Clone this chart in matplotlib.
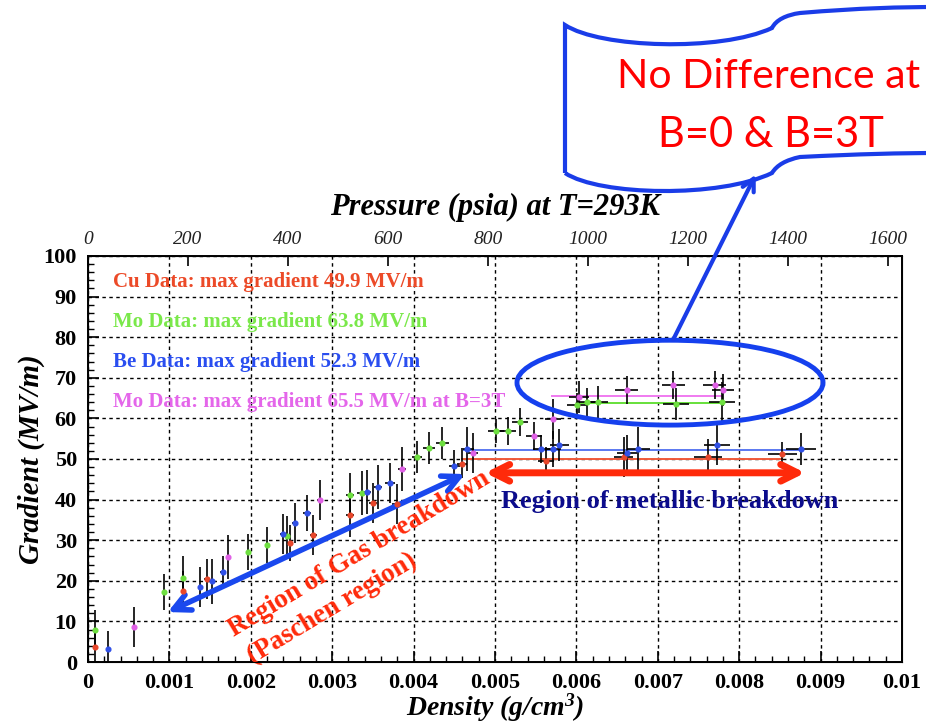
import matplotlib
matplotlib.use("Agg")
import matplotlib.pyplot as plt
import matplotlib.patches as mpatches
from matplotlib.path import Path
from matplotlib.ticker import MultipleLocator

plt.rcParams["font.family"] = ["Liberation Serif", "DejaVu Serif"]
plt.rcParams["mathtext.fontset"] = "custom"
plt.rcParams["mathtext.rm"] = "Liberation Serif:italic:bold"
plt.rcParams["mathtext.it"] = "Liberation Serif:italic:bold"

# ---- data ----
cu_x = [0.000086, 0.00117, 0.00146, 0.00248, 0.00277, 0.00322, 0.0035, 0.00379,
        0.00459, 0.00563, 0.00658, 0.00762, 0.00853]
cu_y = [3.7, 17.5, 20.4, 29.3, 31.3, 36.2, 39.2, 38.9, 48.8, 49.5, 50.5, 50.5, 51.2]
cu_xerr = [0.00002, 0.00003, 0.00003, 0.00004, 0.00004, 0.00005, 0.00005, 0.00005,
           0.00006, 0.0001, 0.00012, 0.00017, 0.00018]
cu_yerr = [4.5, 5.0, 5.0, 4.5, 5.0, 5.5, 5.0, 5.0, 3.5, 3.5, 5.0, 4.5, 3.0]

mo_x = [0.000086, 0.00093, 0.00117, 0.00197, 0.0022, 0.00244, 0.00322, 0.00336,
        0.00404, 0.00419, 0.00435, 0.00501, 0.00516, 0.00531, 0.00601, 0.00613,
        0.00627, 0.00722, 0.00779]
mo_y = [7.9, 17.2, 20.7, 27.1, 28.8, 31.0, 41.1, 41.6, 50.5, 52.7, 53.9, 56.9, 56.9,
        59.1, 63.3, 64.0, 64.0, 63.5, 64.0]
mo_xerr = [0.00002, 0.00002, 0.00003, 0.00003, 0.00003, 0.00004, 0.00005, 0.00005,
           0.00006, 0.00007, 0.00008, 0.0001, 0.0001, 0.0001, 0.00012, 0.00012,
           0.00012, 0.00016, 0.00016]
mo_yerr = [5.0, 4.5, 5.5, 4.5, 4.5, 5.0, 5.5, 5.5, 4.0, 4.0, 4.0, 3.0, 3.5, 3.5, 3.0,
           3.5, 4.0, 4.0, 5.0]

be_x = [0.00025, 0.00138, 0.00152, 0.00166, 0.0024, 0.00254, 0.00269, 0.00343,
        0.00356, 0.00371, 0.0045, 0.00466, 0.00557, 0.00571, 0.00579, 0.00662,
        0.00676, 0.00773, 0.00876]
be_y = [3.2, 18.5, 19.9, 22.2, 31.5, 34.2, 36.7, 41.9, 43.1, 44.1, 48.3, 52.5, 52.5,
        52.5, 53.4, 51.5, 52.5, 53.4, 52.5]
be_xerr = [0.00002, 0.00003, 0.00003, 0.00004, 0.00004, 0.00004, 0.00005, 0.00005,
           0.00005, 0.00006, 0.00007, 0.00008, 0.0001, 0.0001, 0.00012, 0.00012,
           0.00014, 0.00016, 0.00018]
be_yerr = [4.5, 5.0, 5.5, 4.0, 5.0, 5.0, 4.5, 5.5, 5.5, 5.0, 4.0, 5.5, 3.5, 4.5, 4.0,
           4.5, 5.5, 5.0, 4.0]

b3_x = [0.00057, 0.00172, 0.00285, 0.00386, 0.00473, 0.00548, 0.00571, 0.00603,
        0.00662, 0.00719, 0.0077, 0.0078]
b3_y = [8.6, 25.9, 39.9, 47.5, 51.5, 55.7, 59.9, 65.3, 67.0, 68.2, 68.2, 67.0]
b3_xerr = [0.00002, 0.00003, 0.00004, 0.00005, 0.00006, 0.0001, 0.0001, 0.00012,
           0.00014, 0.00014, 0.00014, 0.00014]
b3_yerr = [5.0, 5.5, 5.0, 5.5, 5.0, 3.5, 5.0, 4.0, 3.5, 3.5, 3.5, 4.0]

# max gradient lines: colour, value, start density, end density
max_lines = [
    ("#f05a3a", 49.9, 0.00459, 0.00853),
    ("#5a78f0", 52.3, 0.00462, 0.00876),
    ("#66e03a", 63.8, 0.00601, 0.00779),
    ("#f07af0", 65.5, 0.0057, 0.00779),
]

legend_texts = [
    ("Cu Data: max gradient 49.9 MV/m", "#ec4a28"),
    ("Mo Data: max gradient 63.8 MV/m", "#7ae84a"),
    ("Be Data: max gradient 52.3 MV/m", "#2a4ef0"),
    ("Mo Data: max gradient 65.5 MV/m at B=3T", "#e466ea"),
]
legend_y = [93.6, 83.7, 73.9, 64.0]

PSIA_AT_XMAX = 1628.0

W, H = 926, 725
fig = plt.figure(figsize=(W / 100, H / 100), dpi=100)
ax = fig.add_axes([88 / W, 63 / H, 814 / W, 406 / H])

series = [
    (cu_x, cu_y, cu_xerr, cu_yerr, "#e8462a"),
    (mo_x, mo_y, mo_xerr, mo_yerr, "#6ee040"),
    (be_x, be_y, be_xerr, be_yerr, "#3050e8"),
    (b3_x, b3_y, b3_xerr, b3_yerr, "#e060e6"),
]

for col, val, x0, x1 in max_lines:
    ax.plot([x0, x1], [val, val], color=col, lw=1.4, zorder=2)

for xs, ys, xe, ye, col in series:
    ax.errorbar(xs, ys, xerr=xe, yerr=ye, fmt="o", ms=3.4, mfc=col, mec=col,
                ecolor="black", elinewidth=1.2, capsize=0, zorder=3)

ax.set_xlim(0, 0.01)
ax.set_ylim(0, 100)
xt = [i * 0.001 for i in range(11)]
ax.set_xticks(xt)
ax.set_xticklabels(["0"] + ["%g" % v for v in xt[1:]])
ax.xaxis.set_minor_locator(MultipleLocator(0.0002))
ax.yaxis.set_major_locator(MultipleLocator(10))
ax.yaxis.set_minor_locator(MultipleLocator(2))
ax.tick_params(which="both", direction="in", top=False, right=False)
ax.tick_params(which="major", length=8, width=1.2, labelsize=16, pad=8)
ax.tick_params(which="minor", length=4.5, width=1)
for lab in ax.get_xticklabels() + ax.get_yticklabels():
    lab.set_fontweight("bold")
ax.grid(True, which="major", color="black", ls=(0, (2.5, 2.5)), lw=1)
for s in ax.spines.values():
    s.set_linewidth(1.4)

ax.set_xlabel("Density (g/cm$^3$)", fontsize=20, fontweight="bold", style="italic",
              va="center")
ax.xaxis.set_label_coords(0.5, -0.112)
ax.set_ylabel("Gradient (MV/m)", fontsize=21, fontweight="bold", style="italic",
              va="center")
ax.yaxis.set_label_coords(-0.069, 0.5)

# top pressure axis
ax2 = ax.twiny()
ax2.set_xlim(0, PSIA_AT_XMAX)
ax2.xaxis.set_major_locator(MultipleLocator(200))
ax2.tick_params(axis="x", direction="in", length=7, width=1.2, labelsize=14, pad=6,
                labelcolor="#222222")
for lab in ax2.get_xticklabels():
    lab.set_fontstyle("italic")
ax2.set_xlabel("Pressure (psia) at T=293K", fontsize=22, fontweight="bold",
               style="italic", va="center")
ax2.xaxis.set_label_coords(0.5, 1.12)

# legend-like texts
for (txt, col), yv in zip(legend_texts, legend_y):
    ax.text(0.000307, yv, txt, color=col, fontsize=15, fontweight="bold", va="center",
            ha="left", zorder=4)

# ellipse around the B=0 / B=3T data
ax.add_patch(mpatches.Ellipse((0.00715, 68.8), 0.00376, 20.9, fill=False,
                              ec="#1540ee", lw=3.5, zorder=5))

# gas breakdown arrow
ax.annotate("", xy=(0.00098, 12.3), xytext=(0.00463, 46.3),
            arrowprops=dict(arrowstyle="<->", color="#1a48ee", lw=4, mutation_scale=30,
                            shrinkA=0, shrinkB=0))
# metallic breakdown arrow
ax.annotate("", xy=(0.00488, 46.6), xytext=(0.00881, 46.6),
            arrowprops=dict(arrowstyle="<->", color="#ff2a0a", lw=5, mutation_scale=30,
                            shrinkA=0, shrinkB=0))

ax.text(0.00715, 39.5, "Region of metallic breakdown", color="#0c0c8c", fontsize=19,
        fontweight="bold", ha="center", va="center", zorder=6)
ax.text(0.00333, 26.6, "Region of Gas breakdown", color="#ff2a0a", fontsize=19.5,
        fontweight="bold", ha="center", va="center", rotation=31, zorder=6)
ax.text(0.0030, 13.2, "(Paschen region)", color="#ff2a0a", fontsize=19.5,
        fontweight="bold", ha="center", va="center", rotation=31, zorder=6)


# callout scroll shape (figure pixel coords)
def P(x, y):
    return (x / W, 1 - y / H)


verts = [
    P(565, 173), P(565, 25),
    P(600, 48), P(720, 52), P(772, 28),
    P(776, 20), P(786, 15), P(800, 13),
    P(860, 8), P(900, 7), P(940, 7),
    P(940, 153),
    P(900, 153), P(860, 154), P(800, 157),
    P(786, 160), P(777, 165), P(772, 173),
    P(720, 198), P(600, 196), P(565, 173),
]
codes = [Path.MOVETO, Path.LINETO,
         Path.CURVE4, Path.CURVE4, Path.CURVE4,
         Path.CURVE4, Path.CURVE4, Path.CURVE4,
         Path.CURVE4, Path.CURVE4, Path.CURVE4,
         Path.MOVETO,
         Path.CURVE4, Path.CURVE4, Path.CURVE4,
         Path.CURVE4, Path.CURVE4, Path.CURVE4,
         Path.CURVE4, Path.CURVE4, Path.CURVE4]
fig.patches.append(mpatches.PathPatch(Path(verts, codes), fill=False, ec="#1a3ce8",
                                      lw=3, transform=fig.transFigure, clip_on=False))

fig.text(*P(617, 76), "No Difference at", color="#ff0000", fontsize=29.5,
         family=["Lato", "DejaVu Sans"], ha="left", va="center")
fig.text(*P(771, 135), "B=0 & B=3T", color="#ff0000", fontsize=30,
         family=["Lato", "DejaVu Sans"], ha="center", va="center")

# arrow from ellipse to callout
fig.patches.append(mpatches.FancyArrowPatch(P(672, 342), P(757, 172), arrowstyle="->",
                                            mutation_scale=22, lw=3, color="#1a3ce8",
                                            transform=fig.transFigure))

fig.savefig("out.png", dpi=100)
